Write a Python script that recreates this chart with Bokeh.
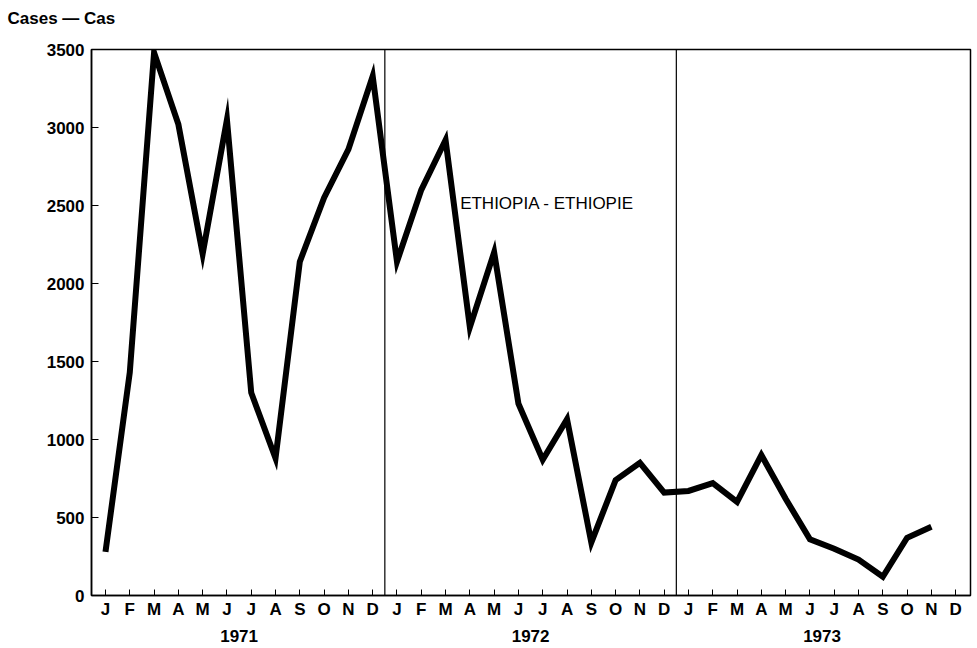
from bokeh.plotting import figure
from bokeh.models import FixedTicker, LinearAxis, Span, Label, Range1d, Title
from bokeh.embed import file_html
from bokeh.resources import INLINE

months = ["J", "F", "M", "A", "M", "J", "J", "A", "S", "O", "N", "D"]
years = ["1971", "1972", "1973"]
cases_1971 = [280, 1430, 3480, 3020, 2190, 3050, 1300, 880, 2140, 2550, 2860, 3330]
cases_1972 = [2140, 2600, 2920, 1720, 2200, 1230, 870, 1130, 340, 740, 850, 660]
cases_1973 = [670, 720, 600, 900, 620, 360, 300, 230, 120, 370, 440]
y_ticks = [0, 500, 1000, 1500, 2000, 2500, 3000, 3500]
title_text = "Cases \u2014 Cas"
series_label = "ETHIOPIA - ETHIOPIE"

values = cases_1971 + cases_1972 + cases_1973
xs = list(range(len(values)))
n_months = len(months) * len(years)

FONT = "Liberation Sans"

p = figure(width=973, height=644, output_backend="svg", toolbar_location=None,
           x_range=Range1d(-0.576, 35.61), y_range=Range1d(0, 3500),
           min_border_left=91, min_border_right=3, min_border_top=49, min_border_bottom=0,
           x_axis_type=None, y_axis_type=None)
p.grid.visible = False
p.outline_line_color = "black"
p.outline_line_width = 1.5
p.background_fill_color = "white"
p.border_fill_color = "white"

# main title (outermost in the "above" stack)
p.title.text = title_text
p.title.align = "left"
p.title.offset = -84
p.title.vertical_align = "middle"
p.title.text_font = FONT
p.title.text_font_size = "17px"
p.title.text_font_style = "bold"
p.title.text_color = "black"
p.title.standoff = 14

# spacer between title and plot frame
p.add_layout(Title(text=" ", text_font_size="8px", standoff=3), "above")

# y axis
yax = LinearAxis(ticker=FixedTicker(ticks=y_ticks))
yax.major_label_text_font = FONT
yax.major_label_text_font_size = "17px"
yax.major_label_text_font_style = "bold"
yax.major_label_text_color = "black"
yax.major_tick_line_color = "black"
yax.major_tick_in = 7
yax.major_tick_out = 0
yax.minor_tick_line_color = None
yax.axis_line_color = "black"
yax.axis_line_width = 1.5
yax.major_label_standoff = 7
p.add_layout(yax, "left")

# x axis: months
mticks = list(range(n_months))
xax = LinearAxis(ticker=FixedTicker(ticks=mticks))
xax.major_label_overrides = {i: months[i % 12] for i in mticks}
xax.major_label_text_font = FONT
xax.major_label_text_font_size = "17px"
xax.major_label_text_font_style = "bold"
xax.major_label_text_color = "black"
xax.major_tick_line_color = "black"
xax.major_tick_in = 6
xax.major_tick_out = 0
xax.minor_tick_line_color = None
xax.axis_line_color = "black"
xax.axis_line_width = 1.5
xax.major_label_standoff = 4
p.add_layout(xax, "below")

# x axis: years
yticks_pos = [5.5 + 12 * k for k in range(len(years))]
yrax = LinearAxis(ticker=FixedTicker(ticks=yticks_pos))
yrax.major_label_overrides = {t: years[k] for k, t in enumerate(yticks_pos)}
yrax.major_label_text_font = FONT
yrax.major_label_text_font_size = "17px"
yrax.major_label_text_font_style = "bold"
yrax.major_label_text_color = "black"
yrax.major_tick_line_color = None
yrax.minor_tick_line_color = None
yrax.axis_line_color = None
yrax.major_label_standoff = 2
p.add_layout(yrax, "below")

# year dividers
for k in range(1, len(years)):
    p.add_layout(Span(location=12 * k - 0.5, dimension="height",
                      line_color="black", line_width=1.2))

p.line(xs, values, line_color="black", line_width=6, line_join="miter")

p.add_layout(Label(x=14.6, y=2516, text=series_label, text_font=FONT,
                   text_font_size="17px", text_baseline="middle", text_color="black"))

open("out.html", "w").write(file_html(p, INLINE))
